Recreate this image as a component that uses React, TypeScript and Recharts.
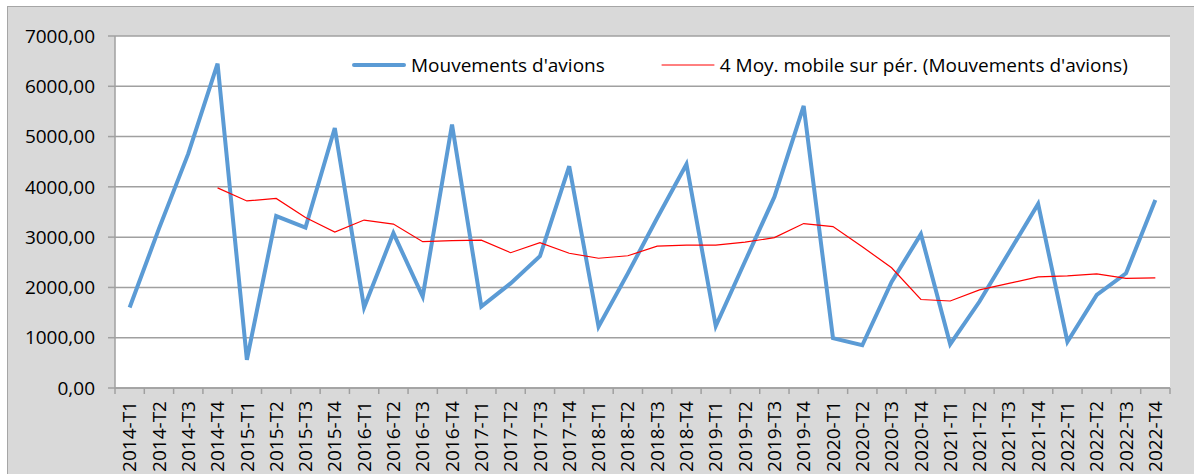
import { CartesianGrid, Legend, Line, LineChart, XAxis, YAxis } from "recharts";

const categories = [
  "2014-T1", "2014-T2", "2014-T3", "2014-T4",
  "2015-T1", "2015-T2", "2015-T3", "2015-T4",
  "2016-T1", "2016-T2", "2016-T3", "2016-T4",
  "2017-T1", "2017-T2", "2017-T3", "2017-T4",
  "2018-T1", "2018-T2", "2018-T3", "2018-T4",
  "2019-T1", "2019-T2", "2019-T3", "2019-T4",
  "2020-T1", "2020-T2", "2020-T3", "2020-T4",
  "2021-T1", "2021-T2", "2021-T3", "2021-T4",
  "2022-T1", "2022-T2", "2022-T3", "2022-T4",
];

const mouvements = [
  1600, 3170, 4660, 6450,
  560, 3420, 3190, 5170,
  1600, 3080, 1820, 5240,
  1620, 2080, 2620, 4410,
  1220, 2280, 3380, 4450,
  1230, 2520, 3800, 5610,
  990, 850, 2110, 3060,
  870, 1720, 2690, 3660,
  920, 1850, 2280, 3740,
];

const moyenneMobile = [
  null, null, null, 3980,
  3720, 3770, 3390, 3100,
  3340, 3260, 2910, 2930,
  2940, 2690, 2890, 2680,
  2580, 2630, 2820, 2840,
  2840, 2900, 2990, 3270,
  3210, 2810, 2390, 1760,
  1730, 1950, 2080, 2210,
  2230, 2270, 2180, 2190,
];

const yTicks = [0, 1000, 2000, 3000, 4000, 5000, 6000, 7000];

const seriesNames = {
  mouvements: "Mouvements d'avions",
  moyenne: "4 Moy. mobile sur pér. (Mouvements d'avions)",
};
const legendOrder = ["mouvements", "moyenne"];

const FONT = "'Open Sans', sans-serif";
const GRID = "#a0a0a0";
const BLUE = "#5b9bd5";
const RED = "#ff0000";

// category i sits in the middle of slot [i, i+1]; integer positions are the slot borders
const data = categories.map((label, i) => ({
  pos: i + 0.5,
  label,
  mouvements: mouvements[i],
  moyenne: moyenneMobile[i],
}));

const xTicks: number[] = [];
for (let i = 0; i <= categories.length; i++) {
  xTicks.push(i);
  if (i < categories.length) xTicks.push(i + 0.5);
}

const formatY = (v: number) => v.toFixed(2).replace(".", ",");

const CategoryTick = (props: any) => {
  const { x, y, payload } = props;
  const v = payload.value as number;
  if (Number.isInteger(v)) {
    return <line x1={x} y1={y} x2={x} y2={y + 6} stroke={GRID} strokeWidth={1.5} />;
  }
  return (
    <text
      x={x}
      y={y + 13}
      transform={`rotate(-90, ${x}, ${y + 13})`}
      textAnchor="end"
      dy="0.35em"
      fill="#000"
      fontSize={19}
      fontFamily={FONT}
    >
      {categories[Math.floor(v)]}
    </text>
  );
};

const LegendContent = (props: any) => {
  const items = [...(props.payload || [])].sort(
    (a: any, b: any) => legendOrder.indexOf(a.dataKey) - legendOrder.indexOf(b.dataKey)
  );
  return (
    <div style={{ display: "flex", alignItems: "center", fontFamily: FONT, fontSize: 19, color: "#000" }}>
      {items.map((entry: any, i: number) => {
        const thick = entry.dataKey === "mouvements";
        return (
          <div key={i} style={{ display: "flex", alignItems: "center", marginRight: i === 0 ? 55 : 0 }}>
            <svg width={56} height={10} style={{ marginRight: 4 }}>
              <line
                x1={thick ? 3 : 2}
                y1={5}
                x2={thick ? 53 : 54}
                y2={5}
                stroke={entry.color}
                strokeWidth={thick ? 4 : 1}
                strokeLinecap="round"
              />
            </svg>
            <span style={{ whiteSpace: "nowrap" }}>{entry.value}</span>
          </div>
        );
      })}
    </div>
  );
};

export default function App() {
  return (
    <div style={{ position: "absolute", left: 0, top: 0, width: 1194, height: 474, overflow: "hidden", background: "#fff" }}>
      <div
        style={{
          position: "absolute",
          left: 7,
          top: 6,
          width: 1200,
          height: 480,
          background: "#d9d9d9",
          border: "1px solid #a6a6a6",
        }}
      />
      <div style={{ position: "absolute", left: 0, top: 0 }}>
        <LineChart width={1194} height={474} data={data} margin={{ top: 36, right: 24, bottom: 0, left: 15 }}>
          <CartesianGrid vertical={false} stroke={GRID} strokeWidth={1.5} fill="#fff" />
          <XAxis
            dataKey="pos"
            type="number"
            domain={[0, categories.length]}
            ticks={xTicks}
            interval={0}
            height={86}
            tickSize={0}
            tickMargin={0}
            tickLine={false}
            axisLine={{ stroke: GRID, strokeWidth: 1.5 }}
            tick={CategoryTick}
          />
          <YAxis
            type="number"
            domain={[0, 7000]}
            ticks={yTicks}
            interval={0}
            width={100}
            tickSize={7}
            tickMargin={13}
            tickFormatter={formatY}
            axisLine={{ stroke: GRID, strokeWidth: 1.5 }}
            tickLine={{ stroke: GRID, strokeWidth: 1.5 }}
            tick={{ fill: "#000", fontSize: 19, fontFamily: FONT }}
          />
          <Legend
            layout="horizontal"
            verticalAlign="middle"
            align="center"
            content={LegendContent}
            wrapperStyle={{ top: 52, left: 351, width: 820, height: 26 }}
          />
          <Line
            type="linear"
            dataKey="mouvements"
            name={seriesNames.mouvements}
            stroke={BLUE}
            strokeWidth={4}
            dot={false}
            activeDot={false}
            isAnimationActive={false}
          />
          <Line
            type="linear"
            dataKey="moyenne"
            name={seriesNames.moyenne}
            stroke={RED}
            strokeWidth={1.2}
            dot={false}
            activeDot={false}
            isAnimationActive={false}
          />
        </LineChart>
      </div>
    </div>
  );
}
